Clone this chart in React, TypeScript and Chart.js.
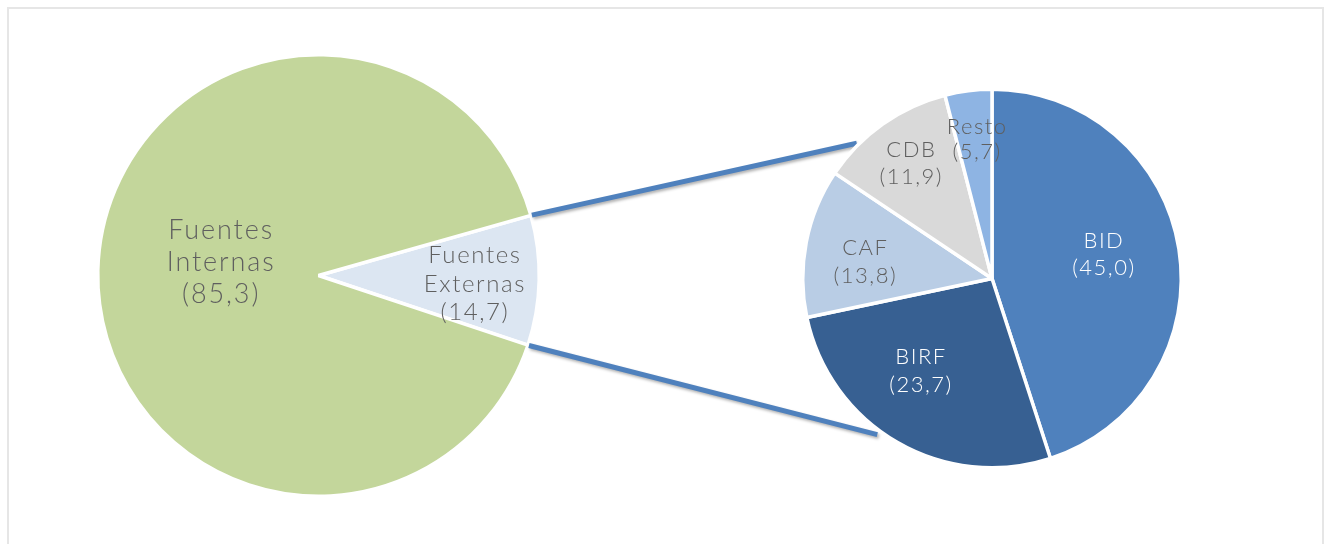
import React, { useEffect, useRef } from "react";
import { Chart, registerables } from "chart.js";

Chart.register(...registerables);

// ---------- DATA ----------
// Main pie (slice sizes as drawn in the picture, and the printed label values)
const mainCategories = ["Fuentes Externas", "Fuentes Internas"];
const mainValues = [9.5, 90.5];
const mainValueLabels = ["14,7", "85,3"];

// Secondary pie (breakdown of Fuentes Externas)
const detailCategories = ["BID", "BIRF", "CAF", "CDB", "Resto"];
const detailValues = [45.0, 26.7, 12.7, 11.6, 4.0];
const detailValueLabels = ["45,0", "23,7", "13,8", "11,9", "5,7"];

// ---------- STYLE ----------
const W = 1325;
const H = 544;
const FONT = "Lato, 'Open Sans', sans-serif";
const TEXT_GRAY = "#5f5f5f";

const mainColors = ["#dce6f2", "#c3d69b"];
const detailColors = ["#4f81bd", "#376092", "#b9cde5", "#d9d9d9", "#8eb4e3"];

const mainLabelStyle = {
  sizes: [24, 27],
  lineHeights: [28.5, 32],
  spacing: [1.6, 1.9],
  colors: [TEXT_GRAY, TEXT_GRAY],
  // [radius factor along mid angle, dx, dy]
  anchors: [
    [0.705, 0, 5],
    [0.45, 1, -11],
  ],
};

const detailLabelStyle = {
  sizes: [22, 22, 22, 22, 22],
  lineHeights: [27, 28, 28, 27, 25],
  spacing: [1.5, 1.5, 1.5, 1.5, 1.5],
  colors: ["#ffffff", "#ffffff", TEXT_GRAY, TEXT_GRAY, TEXT_GRAY],
  anchors: [
    [0.6, -1, -6],
    [0.62, -13, -9],
    [0.675, -2, 8],
    [0.745, 0, 0],
    [0.74, 2, 0],
  ],
};

// connector end points on the secondary pie: [canvas angle in degrees, extra radius]
const connectorEnds = [
  [225, 2],
  [126.3, 4.5],
];

const buildLines = (cats: string[], vals: string[]) =>
  cats.map((c, i) => [...c.split(" "), `(${vals[i]})`]);

const sliceLabelPlugin = {
  id: "sliceLabels",
  afterDatasetsDraw(chart: any, _args: any, opts: any) {
    const meta = chart.getDatasetMeta(0);
    const ctx = chart.ctx as CanvasRenderingContext2D;
    meta.data.forEach((arc: any, i: number) => {
      const p = arc.getProps(["x", "y", "startAngle", "endAngle", "outerRadius"], true);
      const mid = (p.startAngle + p.endAngle) / 2;
      const [f, dx, dy] = opts.anchors[i];
      const cx = p.x + Math.cos(mid) * p.outerRadius * f + dx;
      const cy = p.y + Math.sin(mid) * p.outerRadius * f + dy;
      const lines: string[] = opts.lines[i];
      const lh = opts.lineHeights[i];
      ctx.save();
      ctx.font = `300 ${opts.sizes[i]}px ${FONT}`;
      (ctx as any).letterSpacing = `${opts.spacing[i]}px`;
      ctx.fillStyle = opts.colors[i];
      ctx.textAlign = "center";
      ctx.textBaseline = "middle";
      const n = lines.length;
      lines.forEach((ln, k) => {
        ctx.fillText(ln, cx + opts.spacing[i] / 2, cy + (k - (n - 1) / 2) * lh);
      });
      ctx.restore();
    });
  },
};

const makeConnectorPlugin = (getMain: () => Chart | null) => ({
  id: "connectors",
  beforeDatasetsDraw(chart: any) {
    const main = getMain();
    if (!main) return;
    const mArc: any = main.getDatasetMeta(0).data[0];
    const sArc: any = chart.getDatasetMeta(0).data[0];
    if (!mArc || !sArc) return;
    const m = mArc.getProps(["x", "y", "startAngle", "endAngle", "outerRadius"], true);
    const s = sArc.getProps(["x", "y", "outerRadius"], true);
    const starts = [m.startAngle, m.endAngle];
    const ctx = chart.ctx as CanvasRenderingContext2D;
    ctx.save();
    ctx.strokeStyle = "#4f81bd";
    ctx.lineWidth = 5;
    ctx.lineCap = "butt";
    ctx.shadowColor = "rgba(0,0,0,0.3)";
    ctx.shadowBlur = 3;
    ctx.shadowOffsetX = 1.5;
    ctx.shadowOffsetY = 2;
    starts.forEach((a, i) => {
      const [deg, extra] = connectorEnds[i];
      const b = (deg * Math.PI) / 180;
      const x0 = m.x + Math.cos(a) * (m.outerRadius + 1);
      const y0 = m.y + Math.sin(a) * (m.outerRadius + 1);
      const x1 = s.x + Math.cos(b) * (s.outerRadius + extra);
      const y1 = s.y + Math.sin(b) * (s.outerRadius + extra);
      ctx.beginPath();
      ctx.moveTo(x0, y0);
      ctx.lineTo(x1, y1);
      ctx.stroke();
    });
    ctx.restore();
  },
});

const baseOptions = (padding: any, rotation: number, labelOpts: any) => ({
  responsive: false,
  animation: false as const,
  rotation,
  layout: { padding },
  events: [] as any[],
  plugins: {
    legend: { display: false },
    tooltip: { enabled: false },
    title: { display: false },
    sliceLabels: labelOpts,
  },
});

export default function App() {
  const mainRef = useRef<HTMLCanvasElement>(null);
  const detailRef = useRef<HTMLCanvasElement>(null);

  useEffect(() => {
    document.body.style.overflow = "hidden";
    let mainChart: Chart | null = null;
    let detailChart: Chart | null = null;
    if (mainRef.current) {
      mainChart = new Chart(mainRef.current, {
        type: "pie",
        data: {
          labels: mainCategories,
          datasets: [
            {
              data: mainValues,
              backgroundColor: mainColors,
              borderColor: "#ffffff",
              borderWidth: 3.5,
              hoverOffset: 0,
              offset: 0,
            } as any,
          ],
        },
        options: baseOptions({ left: 96, top: 53, right: 784, bottom: 46 }, 74.2, {
          ...mainLabelStyle,
          lines: buildLines(mainCategories, mainValueLabels),
        }) as any,
        plugins: [sliceLabelPlugin as any],
      });
    }
    if (detailRef.current) {
      detailChart = new Chart(detailRef.current, {
        type: "pie",
        data: {
          labels: detailCategories,
          datasets: [
            {
              data: detailValues,
              backgroundColor: detailColors,
              borderColor: "#ffffff",
              borderWidth: 3.5,
              hoverOffset: 0,
              offset: 0,
            } as any,
          ],
        },
        options: baseOptions({ left: 801, top: 87.5, right: 142, bottom: 74.5 }, 0, {
          ...detailLabelStyle,
          lines: buildLines(detailCategories, detailValueLabels),
        }) as any,
        plugins: [makeConnectorPlugin(() => mainChart) as any, sliceLabelPlugin as any],
      });
    }
    return () => {
      detailChart?.destroy();
      mainChart?.destroy();
    };
  }, []);

  return (
    <div
      style={{
        position: "fixed",
        left: 0,
        top: 0,
        width: W,
        height: H,
        overflow: "hidden",
        background: "#ffffff",
      }}
    >
      <div
        style={{
          position: "absolute",
          left: 7,
          top: 7,
          width: 1317,
          height: 600,
          border: "2px solid #e6e6e6",
          boxSizing: "border-box",
        }}
      />
      <canvas
        ref={mainRef}
        width={W}
        height={H}
        style={{ position: "absolute", left: 0, top: 0 }}
      />
      <canvas
        ref={detailRef}
        width={W}
        height={H}
        style={{ position: "absolute", left: 0, top: 0 }}
      />
    </div>
  );
}
